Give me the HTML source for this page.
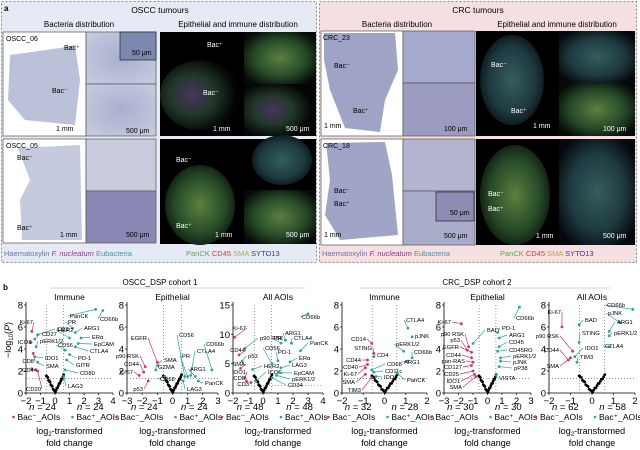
<!DOCTYPE html>
<html><head><meta charset="utf-8">
<style>
html,body{margin:0;padding:0;background:#fff;width:640px;height:450px;overflow:hidden;font-family:"Liberation Sans",Arial,sans-serif;}
svg{display:block}
</style></head><body>
<svg id="s" width="640" height="450" xmlns="http://www.w3.org/2000/svg" font-family="Liberation Sans, Arial, sans-serif">
<defs>
<radialGradient id="he" cx="50%" cy="50%" r="60%"><stop offset="0" stop-color="#a9b0cf"/><stop offset="1" stop-color="#c3c8de"/></radialGradient>
<radialGradient id="fl1" cx="40%" cy="50%" r="55%"><stop offset="0" stop-color="#4a3460"/><stop offset="0.5" stop-color="#22382a"/><stop offset="1" stop-color="#030503"/></radialGradient>
<radialGradient id="fl2" cx="50%" cy="50%" r="60%"><stop offset="0" stop-color="#5a8040"/><stop offset="0.6" stop-color="#264a28"/><stop offset="1" stop-color="#060a06"/></radialGradient>
<radialGradient id="fl3" cx="50%" cy="50%" r="60%"><stop offset="0" stop-color="#345e5a"/><stop offset="0.6" stop-color="#1e3a40"/><stop offset="1" stop-color="#05080c"/></radialGradient>
</defs>
<rect x="1.5" y="1.5" width="315" height="261" fill="#e5eaf5" stroke="#888" stroke-dasharray="2,2"/>
<rect x="319.5" y="1.5" width="317" height="261" fill="#f6dfe0" stroke="#888" stroke-dasharray="2,2"/>
<text x="4" y="11" font-size="8" font-weight="bold">a</text>
<text x="160" y="13" font-size="8.5" text-anchor="middle">OSCC tumours</text>
<text x="79" y="27" font-size="8" text-anchor="middle">Bacteria distribution</text>
<text x="238" y="27" font-size="8" text-anchor="middle">Epithelial and immune distribution</text>
<text x="478" y="13" font-size="8.5" text-anchor="middle">CRC tumours</text>
<text x="397" y="27" font-size="8" text-anchor="middle">Bacteria distribution</text>
<text x="557" y="27" font-size="8" text-anchor="middle">Epithelial and immune distribution</text>
<rect x="3" y="32" width="83" height="104" fill="#fff" stroke="#555" stroke-width="0.7"/>
<path d="M10 55 L60 48 L75 45 L80 80 L75 125 L25 120 L8 100 Z" fill="#bcc1da"/>
<rect x="86" y="32" width="70" height="52" fill="url(#he)" stroke="#555" stroke-width="0.7"/>
<rect x="120" y="32" width="36" height="28" fill="#7d88b0" stroke="#222" stroke-width="0.7"/>
<rect x="86" y="84" width="70" height="52" fill="url(#he)" stroke="#555" stroke-width="0.7"/>
<rect x="3" y="139" width="83" height="104" fill="#fff" stroke="#555" stroke-width="0.7"/>
<path d="M18 148 L80 145 L82 240 L22 240 L20 200 L30 180 Z" fill="#c6cade"/>
<rect x="86" y="139" width="70" height="52" fill="#c9ccdc" stroke="#555" stroke-width="0.7"/>
<rect x="86" y="191" width="70" height="52" fill="#8b87b4" stroke="#555" stroke-width="0.7"/>
<rect x="160" y="32" width="156" height="104" fill="#000"/>
<ellipse cx="200" cy="95" rx="40" ry="35" fill="url(#fl1)"/>
<rect x="244" y="32" width="72" height="52" fill="url(#fl2)"/>
<rect x="244" y="84" width="72" height="52" fill="url(#fl1)"/>
<rect x="160" y="139" width="156" height="105" fill="#000"/>
<ellipse cx="200" cy="205" rx="35" ry="40" fill="url(#fl2)"/>
<rect x="244" y="190" width="72" height="54" fill="url(#fl2)"/>
<ellipse cx="282" cy="160" rx="30" ry="25" fill="url(#fl3)"/>
<g font-size="7">
<text x="6" y="41">OSCC_06</text><text x="6" y="148">OSCC_05</text>
<text x="64" y="50">Bac⁺</text><text x="52" y="93">Bac⁻</text>
<text x="17" y="160">Bac⁻</text><text x="17" y="230">Bac⁺</text>
<text x="56" y="131">1 mm</text><text x="60" y="237">1 mm</text>
<text x="126" y="133">500 μm</text><text x="126" y="237">500 μm</text><text x="132" y="55">50 μm</text>
<text x="207" y="47" fill="#fff">Bac⁺</text><text x="203" y="95" fill="#fff">Bac⁻</text>
<text x="176" y="162" fill="#fff">Bac⁻</text><text x="176" y="228" fill="#fff">Bac⁺</text>
<text x="213" y="131" fill="#fff">1 mm</text><text x="286" y="131" fill="#fff">500 μm</text>
<text x="215" y="237" fill="#fff">1 mm</text><text x="286" y="237" fill="#fff">500 μm</text>
</g>
<rect x="321" y="31" width="82" height="105" fill="#fff" stroke="#555" stroke-width="0.7"/>
<path d="M324 33 L395 33 L398 70 L385 100 L380 132 L345 128 L330 90 L324 60 Z" fill="#9fa3c6"/>
<rect x="403" y="31" width="72" height="52" fill="#a5a9cb" stroke="#555" stroke-width="0.7"/>
<rect x="403" y="83" width="72" height="53" fill="#9c9bc0" stroke="#555" stroke-width="0.7"/>
<rect x="321" y="139" width="82" height="106" fill="#fff" stroke="#555" stroke-width="0.7"/>
<path d="M326 143 L385 142 L392 175 L398 235 L340 240 L325 215 L330 180 Z" fill="#a0a4c6"/>
<rect x="403" y="139" width="72" height="52" fill="#b4b6cf" stroke="#555" stroke-width="0.7"/>
<rect x="403" y="191" width="72" height="54" fill="#a9acc9" stroke="#555" stroke-width="0.7"/>
<rect x="436" y="192" width="38" height="29" fill="#8c8cb4" stroke="#222" stroke-width="0.7"/>
<rect x="476" y="31" width="159" height="105" fill="#000"/>
<ellipse cx="512" cy="80" rx="32" ry="45" fill="url(#fl3)"/>
<rect x="559" y="31" width="76" height="52" fill="url(#fl3)"/>
<rect x="559" y="83" width="76" height="53" fill="url(#fl2)"/>
<rect x="476" y="139" width="159" height="106" fill="#000"/>
<ellipse cx="515" cy="195" rx="35" ry="50" fill="url(#fl2)"/>
<rect x="559" y="139" width="76" height="106" fill="url(#fl3)"/>
<g font-size="7">
<text x="323" y="40">CRC_23</text><text x="323" y="148">CRC_18</text>
<text x="334" y="68">Bac⁻</text><text x="353" y="113">Bac⁺</text>
<text x="324" y="128">1 mm</text><text x="324" y="237">1 mm</text>
<text x="334" y="193">Bac⁻</text><text x="334" y="206">Bac⁺</text>
<text x="444" y="131">100 μm</text><text x="444" y="238">500 μm</text><text x="450" y="215">50 μm</text>
<text x="491" y="67" fill="#fff">Bac⁻</text><text x="511" y="113" fill="#fff">Bac⁺</text>
<text x="533" y="128" fill="#fff">1 mm</text><text x="603" y="131" fill="#fff">100 μm</text>
<text x="488" y="196" fill="#fff">Bac⁻</text><text x="488" y="211" fill="#fff">Bac⁺</text>
<text x="536" y="238" fill="#fff">1 mm</text><text x="603" y="238" fill="#fff">500 μm</text>
</g>
<g font-size="7.5">
<text x="4" y="256"><tspan fill="#6a74b0">Haematoxylin </tspan><tspan fill="#8a3d8a" font-style="italic">F. nucleatum</tspan><tspan fill="#4e8fa0"> Eubacteria</tspan></text>
<text x="186" y="256"><tspan fill="#5aaa50">PanCK </tspan><tspan fill="#d63c3c">CD45 </tspan><tspan fill="#c0a830">SMA </tspan><tspan fill="#3a3aa0">SYTO13</tspan></text>
<text x="322" y="256"><tspan fill="#6a74b0">Haematoxylin </tspan><tspan fill="#8a3d8a" font-style="italic">F. nucleatum</tspan><tspan fill="#4e8fa0"> Eubacteria</tspan></text>
<text x="500" y="256"><tspan fill="#5aaa50">PanCK </tspan><tspan fill="#d63c3c">CD45 </tspan><tspan fill="#c0a830">SMA </tspan><tspan fill="#3a3aa0">SYTO13</tspan></text>
</g>
<text x="3" y="290" font-size="8" font-weight="bold">b</text>
<text x="160" y="285" font-size="8" text-anchor="middle">OSCC_DSP cohort 1</text>
<line x1="50" y1="288" x2="305" y2="288" stroke="#c6d4ee" stroke-width="1"/>
<text x="477" y="285" font-size="8" text-anchor="middle">CRC_DSP cohort 2</text>
<line x1="360" y1="288" x2="610" y2="288" stroke="#f2c6c8" stroke-width="1"/>
<text transform="translate(11,340) rotate(-90)" font-size="9" text-anchor="middle">−log<tspan font-size="6" dy="2">10</tspan><tspan dy="-2">(</tspan><tspan font-style="italic">P</tspan>)</text>
<g id="plots"></g>
</svg>
<script>
var NS="http://www.w3.org/2000/svg",G=document.getElementById("plots");
function el(t,a,txt){var e=document.createElementNS(NS,t);for(var k in a)e.setAttribute(k,a[k]);if(txt!=null)e.textContent=txt;G.appendChild(e);return e;}
var RED="#d9335a",TEAL="#2aa59a";
function plot(o){
 var X0=o.x0,X1=o.x1,Y0=393,YT=305,W=X1-X0;
 function sx(v){return X0+(v-o.xmin)/(o.xmax-o.xmin)*W;}
 function sy(v){return Y0-v/o.ymax*(Y0-YT);}
 el("line",{x1:X0,y1:YT-3,x2:X0,y2:Y0,stroke:"#000","stroke-width":0.8});
 el("line",{x1:X0,y1:Y0,x2:X1,y2:Y0,stroke:"#000","stroke-width":0.8});
 o.yt.forEach(function(v){el("line",{x1:X0-2,y1:sy(v),x2:X0,y2:sy(v),stroke:"#000","stroke-width":0.7});el("text",{x:X0-3,y:sy(v)+3.5,"font-size":9.5,"text-anchor":"end"},v);});
 for(var v=o.xmin;v<=o.xmax;v++){el("line",{x1:sx(v),y1:Y0,x2:sx(v),y2:Y0+2,stroke:"#000","stroke-width":0.7});el("text",{x:sx(v),y:Y0+11,"font-size":9.5,"text-anchor":"middle"},v<0?"−"+(-v):v);}
 el("line",{x1:sx(-0.58),y1:YT,x2:sx(-0.58),y2:Y0,stroke:"#555","stroke-width":0.6,"stroke-dasharray":"1,2"});
 el("line",{x1:sx(0.58),y1:YT,x2:sx(0.58),y2:Y0,stroke:"#555","stroke-width":0.6,"stroke-dasharray":"1,2"});
 el("line",{x1:X0,y1:sy(1.3),x2:X1,y2:sy(1.3),stroke:"#555","stroke-width":0.6,"stroke-dasharray":"1,2"});
 el("text",{x:(X0+X1)/2,y:300,"font-size":8.5,"text-anchor":"middle"},o.t);
 for(var i=0;i<24;i++){var x=-0.6+i*0.052;var y=Math.abs(x)*2.6*(o.ymax/8)+(i%3)*0.06*o.ymax/8;el("circle",{cx:sx(x),cy:sy(Math.min(y,o.ymax*0.25)),r:1.4,fill:"#000"});}
 o.L.forEach(function(l){var col=l[4]?TEAL:RED;var px=sx(l[0]),py=sy(l[1]);el("line",{x1:l[2],y1:l[3],x2:px,y2:py,stroke:col,"stroke-width":0.7});el("circle",{cx:px,cy:py,r:1.4,fill:col});el("text",{x:l[2]+(l[4]?2:-1),y:l[3]+2,"font-size":5.8,"text-anchor":l[4]?"start":"end"},l[5]);});
 var c1=X0+W*0.19,c2=X0+W*0.74;
 [[c1,o.n[0]],[c2,o.n[1]]].forEach(function(p){var t=el("text",{x:p[0],y:410,"font-size":9.5,"text-anchor":"middle"},"");var a=document.createElementNS(NS,"tspan");a.setAttribute("font-style","italic");a.textContent="n";t.appendChild(a);t.appendChild(document.createTextNode(" = "+p[1]));});
 var lx=X0+W/2-58;
 el("circle",{cx:lx+2,cy:417,r:1.3,fill:RED});el("text",{x:lx+6,y:420,"font-size":8.5},"Bac⁻_AOIs");
 el("circle",{cx:lx+61,cy:417,r:1.3,fill:TEAL});el("text",{x:lx+65,y:420,"font-size":8.5},"Bac⁺_AOIs");
 var cx=(X0+X1)/2;
 var t=el("text",{x:cx,y:434,"font-size":9,"text-anchor":"middle"},"log");
 var s1=document.createElementNS(NS,"tspan");s1.setAttribute("font-size","6");s1.setAttribute("dy","2");s1.textContent="2";t.appendChild(s1);
 var s2=document.createElementNS(NS,"tspan");s2.setAttribute("dy","-2");s2.textContent="-transformed";t.appendChild(s2);
 el("text",{x:cx,y:446,"font-size":9,"text-anchor":"middle"},"fold change");
}
plot({x0:26,x1:113,xmin:-2,xmax:4,ymax:8,yt:[0,2,4,6,8],t:"Immune",n:[24,24],L:[
[-1.6,5.6,34,322,0,"Ki-67"],[-1.2,5.3,55,329,1,"CD3"],[-1.4,4.9,40,334,1,"CD27"],[-1.7,4.6,33,342,0,"ICOS"],[-1.3,4.2,38,341,1,"pERK1/2"],[-1.5,3.6,35,361,0,"CD8"],[-1.4,3.3,43,358,1,"IDO1"],[-1.2,2.8,44,366,1,"SMA"],[-1.6,2.2,38,370,0,"CD44"],[-1.2,2,42,389,0,"CD20"],
[2.8,7.6,68,316,1,"PanCK"],[3.3,7.5,98,319,1,"CD66b"],[1.2,5.9,66,322,1,"PR"],[1.4,5.5,82,328,1,"ARG1"],[1,5,56,330,1,"HER2"],[1.8,5,90,337,1,"ERα"],[1.6,4.5,92,344,1,"EpCAM"],[1.4,4.2,88,351,1,"CTLA4"],[0.7,3.9,56,345,1,"CD56"],[1,3.5,76,358,1,"PD-1"],[0.8,3,74,365,1,"GITR"],[0.7,2.1,78,373,1,"CD80"],[0.6,1.5,66,386,1,"LAG3"]]});
plot({x0:127,x1:218,xmin:-3,xmax:3,ymax:8,yt:[0,2,4,6,8],t:"Epithelial",n:[24,24],L:[
[-1,2.8,148,338,0,"EGFR"],[-1.8,2.4,140,356,0,"p90 RSK"],[-1,2.5,162,360,1,"SMA"],[-1.1,2.1,156,367,1,"GZMA"],[-1.9,1.9,140,364,0,"CD44"],[-2.2,1.6,134,372,0,"Ki-67"],[-0.5,1.5,158,379,1,"CD68"],[-1.6,1.1,144,389,0,"p53"],
[0.8,1.5,177,335,1,"CD56"],[1,1.5,180,356,1,"PR"],[1.2,1.6,195,351,1,"CTLA4"],[2.6,2.1,204,344,1,"CD66b"],[1.5,1.5,188,369,1,"ARG1"],[1.7,1.1,203,383,1,"PanCK"],[0.7,1.1,185,389,1,"LAG3"]]});
plot({x0:233,x1:323,xmin:-2,xmax:4,ymax:15,yt:[0,5,10,15],t:"All AOIs",n:[48,48],L:[
[-1.9,9.5,247,328,0,"Ki-67"],[-1.2,7.6,258,338,1,"p90 RSK"],[-1.6,6.5,246,350,0,"CD44"],[-1.4,5.4,246,356,1,"p53"],[-1.5,4.2,246,364,0,"SMA"],[-0.7,4,262,366,1,"HER2"],[-1.2,2.6,247,372,0,"IDO1"],[-1.1,2,246,378,0,"CD8"],[-0.8,1.8,250,384,0,"CD3"],[-0.5,2,266,372,1,"ICOS"],
[3,13.5,300,317,1,"CD66b"],[1.5,9,283,333,1,"ARG1"],[1.2,8.5,272,338,1,"PR"],[1.9,8.5,292,338,1,"CTLA4"],[2.5,7.2,308,343,1,"PanCK"],[0.6,5,263,348,1,"CD56"],[1,5.5,276,352,1,"PD-1"],[1.8,5.3,297,358,1,"ERα"],[1.2,4.3,290,365,1,"LAG3"],[1,3.5,292,373,1,"EpCAM"],[0.9,3,290,379,1,"pERK1/2"],[0.6,2.6,286,385,1,"CD34"]]});
plot({x0:342,x1:427,xmin:-2,xmax:2,ymax:8,yt:[0,2,4,6,8],t:"Immune",n:[32,28],L:[
[-0.6,4.5,367,339,0,"CD14"],[-0.5,3.6,373,348,0,"STING"],[-0.5,3.3,375,355,1,"CD4"],[-0.8,3,362,360,0,"CD44"],[-0.8,2.6,359,367,0,"CD40"],[-0.9,2.3,358,374,0,"Ki-67"],[-0.6,2.1,385,364,1,"CD68"],[-0.5,1.9,383,371,1,"CD11c"],[-0.4,1.5,382,377,1,"IDO1"],[-0.9,1.7,356,382,0,"SMA"],[-0.6,1.4,362,390,0,"TIM3"],
[1.1,5.9,404,320,1,"CTLA4"],[1.3,5.1,413,336,1,"pJNK"],[0.9,3.8,394,344,1,"pERK1/2"],[1.3,3.2,412,352,1,"CD66b"],[1.1,2.9,402,362,1,"ARG1"],[0.6,1.8,405,380,1,"PanCK"]]});
plot({x0:444,x1:531,xmin:-3,xmax:3,ymax:8,yt:[0,2,4,6,8],t:"Epithelial",n:[30,30],L:[
[-1.8,6.3,452,322,0,"Ki-67"],[-1,4.5,485,330,1,"BAD"],[-1.3,4.2,465,334,0,"p90 RSK"],[-1.4,3.9,461,340,0,"p53"],[-1.1,3.7,460,347,0,"EGFR"],[-1.1,3.2,462,355,0,"CD44"],[-1,2.8,466,361,0,"pan-RAS"],[-1.1,2.5,463,367,0,"CD127"],[-1,2,460,374,0,"CD25"],[-0.9,1.7,461,381,0,"IDO1"],[-0.8,1.5,463,387,0,"SMA"],
[2.2,7.8,514,318,1,"CD66b"],[0.7,5.5,500,328,1,"PD-1"],[0.8,5,507,335,1,"ARG1"],[0.8,4.2,507,342,1,"CD45"],[0.7,3.8,507,350,1,"CD45RO"],[0.9,3.2,511,356,1,"pERK1/2"],[0.9,2.9,511,362,1,"pJNK"],[0.8,2.4,512,368,1,"pP38"],[0.6,1.6,497,378,1,"VISTA"]]});
plot({x0:549,x1:635,xmin:-2,xmax:2,ymax:8,yt:[0,2,4,6,8],t:"All AOIs",n:[62,58],L:[
[-1.4,6,562,312,0,"Ki-67"],[-0.6,6.2,583,320,1,"BAD"],[-0.6,4.6,580,333,1,"STING"],[-0.9,3.8,560,336,0,"p90 RSK"],[-0.8,3.3,583,348,1,"IDO1"],[-1.1,3,560,350,0,"CD44"],[-0.7,2.8,578,357,1,"TIM3"],[-1,3.2,560,366,0,"SMA"],
[1.9,7.6,605,305,1,"CD66b"],[1.3,6.4,606,313,1,"pJNK"],[0.8,5.6,615,322,1,"ARG1"],[0.8,5.2,612,333,1,"pERK1/2"],[0.8,4.2,603,346,1,"CTLA4"]]});
</script>
</body></html>
